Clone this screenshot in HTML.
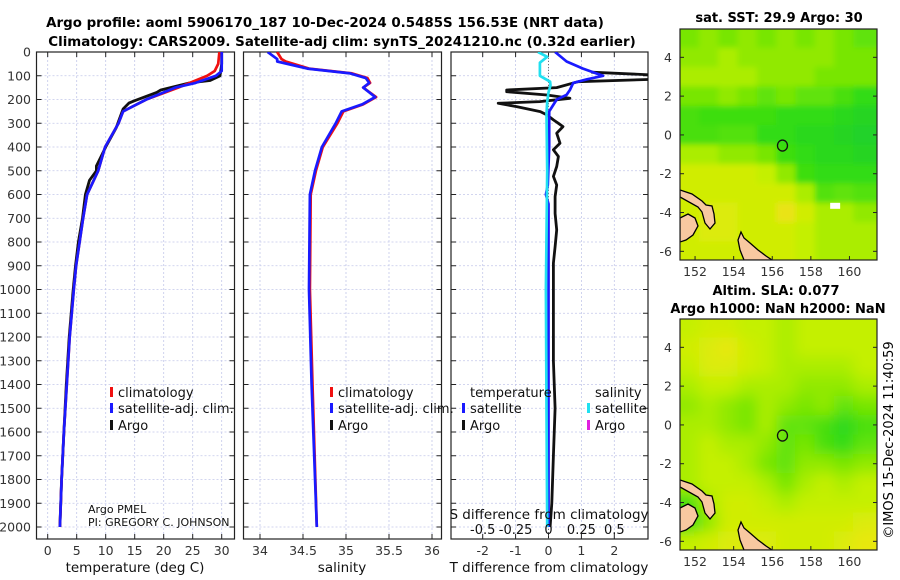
<!DOCTYPE html>
<html><head><meta charset="utf-8"><style>
html,body{margin:0;padding:0;background:#fff;}
svg{display:block;font-family:"DejaVu Sans","Liberation Sans",sans-serif;}
</style></head><body>
<svg id="fig" width="900" height="580" viewBox="0 0 900 580">
<text x="325" y="27" text-anchor="middle" font-size="13.4" font-weight="bold">Argo profile: aoml 5906170_187 10-Dec-2024 0.5485S 156.53E (NRT data)</text>
<text x="342" y="46" text-anchor="middle" font-size="13.4" font-weight="bold">Climatology: CARS2009. Satellite-adj clim: synTS_20241210.nc (0.32d earlier)</text>
<text x="779" y="22" text-anchor="middle" font-size="13" font-weight="bold">sat. SST: 29.9 Argo: 30</text>
<text x="776" y="295" text-anchor="middle" font-size="13" font-weight="bold">Altim. SLA: 0.077</text>
<text x="778" y="313" text-anchor="middle" font-size="13" font-weight="bold">Argo h1000: NaN h2000: NaN</text>
<text transform="translate(893,440) rotate(-90)" text-anchor="middle" font-size="13">©IMOS 15-Dec-2024 11:40:59</text>
<defs><filter id="blur" x="0" y="0" width="1" height="1"><feGaussianBlur stdDeviation="7"/></filter>
<filter id="blur1" x="0" y="0" width="1" height="1"><feGaussianBlur stdDeviation="3"/></filter>
<clipPath id="c1"><rect x="36.5" y="52" width="198" height="487"/></clipPath>
<clipPath id="c2"><rect x="243.5" y="52" width="198" height="487"/></clipPath>
<clipPath id="c3"><rect x="451" y="52" width="197" height="487"/></clipPath>
<clipPath id="m1"><rect x="680" y="29" width="197" height="231"/></clipPath>
<clipPath id="m2"><rect x="680" y="319" width="197" height="231"/></clipPath>
</defs>
<g id="layer"></g>
</svg>
<script>
// ---------- data ----------
const depthTicks=[0,100,200,300,400,500,600,700,800,900,1000,1100,1200,1300,1400,1500,1600,1700,1800,1900,2000];
const tempTicks=[0,5,10,15,20,25,30];
const salTicks=[34,34.5,35,35.5,36];
const salTickLabels=["34","34.5","35","35.5","36"];
const dTTicks=[-2,-1,0,1,2];
const dSTicks=[-0.5,-0.25,0,0.25,0.5];
const dSTickLabels=["-0.5","-0.25","0","0.25","0.5"];

const climDepth=[0,50,80,100,130,150,200,250,300,400,500,600,700,800,900,1000,1200,1400,1600,1800,2000];
const climTemp =[29.6,29.4,28.8,27.5,24.5,22.5,17,13,12.2,9.9,8.7,6.8,6.1,5.5,4.9,4.5,3.8,3.3,2.8,2.4,2.1];
const satTemp  =[30,30,30,29,25.5,22,17,13,12.2,9.9,8.7,6.8,6.1,5.5,4.9,4.5,3.8,3.3,2.8,2.4,2.1];
const argoDepth=[0,50,100,120,130,160,170,205,215,240,280,320,400,440,480,500,540,600,700,800,900,1000,1200,1400,1600,1800,2000];
const argoTemp =[30,30,29.7,28,24.5,19.5,18.8,15,14,13,12.4,11.8,10,9.2,8.4,8.4,7.2,6.5,6,5.3,4.8,4.4,3.7,3.2,2.8,2.4,2.1];

const salDepth=[0,30,40,70,90,110,130,150,190,220,250,300,400,500,600,1000,1400,2000];
const climSal=[34.2,34.25,34.3,34.57,35.07,35.25,35.28,35.2,35.35,35.2,34.97,34.9,34.73,34.65,34.59,34.58,34.61,34.66];
const satSal =[34.09,34.2,34.2,34.55,35.05,35.23,35.27,35.2,35.34,35.19,34.95,34.88,34.72,34.64,34.58,34.57,34.6,34.66];

const dTsatDepth=[0,40,70,100,115,130,160,180,200,250,400,560,600,640,1000,1500,2000];
const dTsat=[0.2,0.55,1.05,1.66,1.17,0.75,0.65,0.55,0.25,0.02,0.02,-0.02,-0.08,0.0,0.0,0.0,0.0];
const dTargoDepth=[85,97,115,125,150,160,167,181,195,209,216,230,251,265,286,300,314,342,384,412,440,482,524,560,609,680,749,820,889,1000,1141,1300,1500,1700,1900,2000];
const dTargo=[1.3,3.2,3.2,0.9,0.25,-1.27,-1.27,-0.05,0.65,-0.26,-1.53,-0.97,-0.25,-0.05,0.15,0.3,0.44,0.25,0.35,0.15,0.3,0.25,0.15,0.25,0.2,0.2,0.25,0.2,0.15,0.15,0.15,0.15,0.2,0.15,0.1,0.05];
const dSsatDepth=[0,20,45,100,125,140,170,210,260,500,1000,1500,2000];
const dSsat=[-0.08,-0.01,-0.065,-0.065,0.012,0.015,0.0,-0.01,-0.015,-0.01,-0.02,-0.015,-0.01];

const mapLats=[5,4,3,2,1,0,-1,-2,-3,-4,-5,-6];
const mapLons=[151.7,152.7,153.7,154.7,155.7,156.7,157.7,158.7,159.7,160.7];
const sstGrid=[
[.4,.45,.4,.45,.4,.45,.4,.45,.4,.35],
[.45,.45,.5,.45,.45,.45,.45,.45,.4,.4],
[.5,.5,.5,.5,.45,.45,.45,.4,.4,.4],
[.4,.4,.45,.4,.35,.4,.35,.35,.3,.25],
[.3,.28,.28,.28,.28,.25,.25,.25,.2,.15],
[.3,.3,.32,.32,.25,.25,.2,.2,.15,.12],
[.5,.5,.45,.45,.4,.28,.25,.2,.2,.15],
[.6,.6,.6,.6,.55,.45,.28,.25,.25,.25],
[.6,.6,.6,.6,.6,.6,.5,.32,.35,.32],
[.6,.65,.65,.6,.6,.72,.6,.5,.5,.45],
[.6,.65,.65,.6,.6,.6,.55,.5,.5,.5],
[.6,.6,.6,.6,.6,.6,.55,.5,.5,.5]];
const slaGrid=[
[.55,.6,.6,.55,.55,.5,.55,.55,.55,.55],
[.6,.65,.7,.6,.55,.5,.55,.55,.55,.55],
[.55,.65,.65,.6,.55,.5,.5,.5,.5,.55],
[.5,.55,.55,.5,.5,.5,.45,.45,.45,.5],
[.45,.5,.45,.4,.5,.45,.4,.45,.35,.4],
[.5,.5,.45,.4,.5,.35,.35,.3,.2,.3],
[.5,.55,.5,.5,.45,.35,.4,.3,.25,.35],
[.5,.55,.55,.5,.4,.35,.45,.45,.4,.45],
[.5,.55,.55,.55,.5,.4,.5,.55,.5,.55],
[.3,.5,.6,.6,.55,.5,.55,.55,.55,.55],
[.25,.45,.6,.6,.6,.6,.6,.6,.6,.65],
[.55,.6,.65,.65,.65,.6,.6,.6,.65,.7]];
const argoLon=156.53, argoLat=-0.5485;
const latTicks=[4,2,0,-2,-4,-6];
const lonTicks=[152,154,156,158,160];

// ---------- helpers ----------
const NS="http://www.w3.org/2000/svg";
const root=document.getElementById('layer');
function mk(tag,attrs,parent){const e=document.createElementNS(NS,tag);for(const k in attrs)e.setAttribute(k,attrs[k]);(parent||root).appendChild(e);return e;}
const yD=d=>52+d*0.2375;
const xT=t=>47.7+t*5.8;
const xS=s=>260+(s-34)*86;
const xdT=v=>548.5+v*32.9;
const xdS=v=>548.5+v*4*32.9;
const mx=lon=>680+(lon-151.22)*19.3;
const my1=lat=>29+(5.46-lat)*19.4;
const my2=lat=>319+(5.46-lat)*19.4;

function panel(x0,x1,name,xticks,xfn,xlabels){
  const g=mk('g',{});
  
  
  depthTicks.forEach(d=>{const l=mk('line',{x1:x0,x2:x1,y1:yD(d),y2:yD(d),stroke:'#c3c8ea','stroke-width':0.8,'stroke-dasharray':'2,2'},g);
    
    mk('line',{x1:x0,x2:x0+5,y1:yD(d),y2:yD(d),stroke:'#222'},g);mk('line',{x1:x1-5,x2:x1,y1:yD(d),y2:yD(d),stroke:'#222'},g);});
  xticks.forEach((t,i)=>{const x=xfn(t);const l=mk('line',{x1:x,x2:x,y1:52,y2:539,stroke:'#c3c8ea','stroke-width':0.8,'stroke-dasharray':'2,2'},g);
    
    mk('line',{x1:x,x2:x,y1:534,y2:539,stroke:'#222'},g);mk('line',{x1:x,x2:x,y1:52,y2:57,stroke:'#222'},g);
    const tx=mk('text',{x:x,y:555,'text-anchor':'middle','font-size':12.5,fill:'#333'},g);tx.textContent=xlabels[i];
    });
  const r=mk('rect',{x:x0,y:52,width:x1-x0,height:487,fill:'none',stroke:'#222','stroke-width':1.2},g);
  
  return g;
}
function line(xs,ds,xfn,color,w,name,clip){
  const pts=xs.map((v,i)=>xfn(v).toFixed(1)+','+yD(ds[i]).toFixed(1)).join(' ');
  const p=mk('polyline',{points:pts,fill:'none',stroke:color,'stroke-width':w,'stroke-linejoin':'round','clip-path':'url(#'+clip+')'});
  
  
}
function txt(x,y,s,size,name,anchor){const t=mk('text',{x:x,y:y,'font-size':size,'text-anchor':anchor||'start',fill:'#111'});t.textContent=s;
  return t;}
function mark(x,y,color,name){const r=mk('rect',{x:x,y:y-11,width:3,height:10,fill:color});
  }

depthTicks.forEach(d=>{const t=mk('text',{x:31,y:yD(d)+4.5,'text-anchor':'end','font-size':12.5,fill:'#333'});t.textContent=String(d);
  });

panel(36.5,234.5,'temperature-panel',tempTicks,xT,tempTicks.map(String));
panel(243.5,441.5,'salinity-panel',salTicks,xS,salTickLabels);
panel(451,648,'difference-panel',dTTicks,xdT,dTTicks.map(String));

const zl=mk('line',{x1:xdT(0),x2:xdT(0),y1:52,y2:539,stroke:'#555','stroke-width':0.8,'stroke-dasharray':'1,2'});


line(argoTemp,argoDepth,xT,'#111',2.8,'argo-temperature-line','c1');
line(climTemp,climDepth,xT,'#f01010',2.7,'climatology-temperature-line','c1');
line(satTemp,climDepth,xT,'#1a1aff',2.7,'satellite-temperature-line','c1');
line(climSal,salDepth,xS,'#f01010',2.7,'climatology-salinity-line','c2');
line(satSal,salDepth,xS,'#1a1aff',2.7,'satellite-salinity-line','c2');
line(dTargo,dTargoDepth,xdT,'#111',2.8,'argo-t-difference-line','c3');
line(dTsat,dTsatDepth,xdT,'#1a1aff',2.7,'satellite-t-difference-line','c3');
line(dSsat,dSsatDepth,xdS,'#20e0f0',2.7,'satellite-s-difference-line','c3');

mark(110,398,'#f01010','legend-climatology-marker');txt(118,397,'climatology',13,'legend-climatology');
mark(110,414,'#1a1aff','legend-satellite-marker');txt(118,413,'satellite-adj. clim.',13,'legend-satellite');
mark(110,431,'#111','legend-argo-marker');txt(118,430,'Argo',13,'legend-argo');
mark(330,398,'#f01010','legend2-climatology-marker');txt(338,397,'climatology',13,'legend2-climatology');
mark(330,414,'#1a1aff','legend2-satellite-marker');txt(338,413,'satellite-adj. clim.',13,'legend2-satellite');
mark(330,431,'#111','legend2-argo-marker');txt(338,430,'Argo',13,'legend2-argo');
txt(470,397,'temperature',13,'legend3-temperature-heading');
mark(462,414,'#1a1aff','legend3-t-satellite-marker');txt(470,413,'satellite',13,'legend3-t-satellite');
mark(462,431,'#111','legend3-t-argo-marker');txt(470,430,'Argo',13,'legend3-t-argo');
txt(595,397,'salinity',13,'legend3-salinity-heading');
mark(587,414,'#20e0f0','legend3-s-satellite-marker');txt(595,413,'satellite',13,'legend3-s-satellite');
mark(587,431,'#e020e0','legend3-s-argo-marker');txt(595,430,'Argo',13,'legend3-s-argo');
txt(88,513,'Argo PMEL',11,'argo-pmel-label');
txt(88,526,'PI: GREGORY C. JOHNSON',11,'pi-label');
txt(549,519,'S difference from climatology',13.5,'s-axis-title','middle');
dSTicks.forEach((v,i)=>{txt(xdS(v),534,dSTickLabels[i],13,'s-tick-label','middle');});
txt(135,572,'temperature (deg C)',13.5,'temperature-axis-title','middle');
txt(342,572,'salinity',13.5,'salinity-axis-title','middle');
txt(549,572,'T difference from climatology',13.5,'t-axis-title','middle');

// ---------- maps ----------
function col(v){const stops=[[0,[20,200,60]],[.25,[48,220,20]],[.4,[120,230,0]],[.55,[196,240,0]],[.7,[232,232,16]],[.85,[240,192,32]],[1,[240,128,32]]];
  for(let i=1;i<stops.length;i++){if(v<=stops[i][0]){const a=stops[i-1],b=stops[i];const f=(v-a[0])/(b[0]-a[0]);
    return 'rgb('+a[1].map((c,j)=>Math.round(c+(b[1][j]-c)*f)).join(',')+')';}}return 'rgb(240,128,32)';}
const land1=[[680,190],[692,194],[702,201],[706,205],[712,206],[714,214],[715,223],[710,229],[705,223],[702,212],[698,207],[680,197]];
const land2=[[680,218],[688,214],[695,218],[698,226],[693,235],[686,240],[680,242]];
const land3=[[741,232],[744,238],[750,243],[758,250],[766,256],[772,260],[744,260],[740,250],[738,240]];
function drawMap(grid,my,clip,name,blur){
  const g=mk('g',{'clip-path':'url(#'+clip+')'});
  
  const top=my(5.46), bottom=my(-6.45);
  const cg=mk('g',{filter:'url(#'+blur+')'},g);
  mk('rect',{x:670,y:top-10,width:220,height:bottom-top+20,fill:col(0.55)},cg);
  grid.forEach((row,i)=>row.forEach((v,j)=>{
    const x=mx(mapLons[j]-0.5),y=my(mapLats[i]+0.5);
    const r=mk('rect',{x:(j==0?x-20:x).toFixed(1),y:(i==0?y-20:y).toFixed(1),width:(19.3+(j==0||j==9?20:0)+0.5).toFixed(1),height:(19.4+(i==0||i==11?20:0)+0.5).toFixed(1),fill:col(v)},cg);
    }));
  const off=my(0)-my1(0);
  [land1,land2,land3].forEach(L=>{const p=mk('polygon',{points:L.map(q=>q[0]+','+(q[1]+off)).join(' '),fill:'#f8c8a0',stroke:'#000','stroke-width':1.3},g);
    });
  const c=mk('ellipse',{cx:mx(argoLon),cy:my(argoLat),rx:5,ry:5.5,fill:'none',stroke:'#111','stroke-width':1.3});
  
  const fr=mk('rect',{x:680,y:top,width:197,height:231,fill:'none',stroke:'#222','stroke-width':1.2});
  
  latTicks.forEach(l=>{const y=my(l);mk('line',{x1:680,x2:684,y1:y,y2:y,stroke:'#222'});mk('line',{x1:873,x2:877,y1:y,y2:y,stroke:'#222'});
    const t=mk('text',{x:672,y:y+4.5,'text-anchor':'end','font-size':12.5,fill:'#333'});t.textContent=String(l);
    });
  lonTicks.forEach(l=>{const x=mx(l);mk('line',{x1:x,x2:x,y1:bottom-4,y2:bottom,stroke:'#222'});
    const t=mk('text',{x:x,y:bottom+16,'text-anchor':'middle','font-size':12.5,fill:'#333'});t.textContent=String(l);
    });
}
drawMap(sstGrid,my1,'m1','sst-map','blur1');
drawMap(slaGrid,my2,'m2','sla-map','blur');
const w=mk('rect',{x:mx(159),y:my1(-3.5),width:10,height:6,fill:'#fff'});

</script>
</body></html>
